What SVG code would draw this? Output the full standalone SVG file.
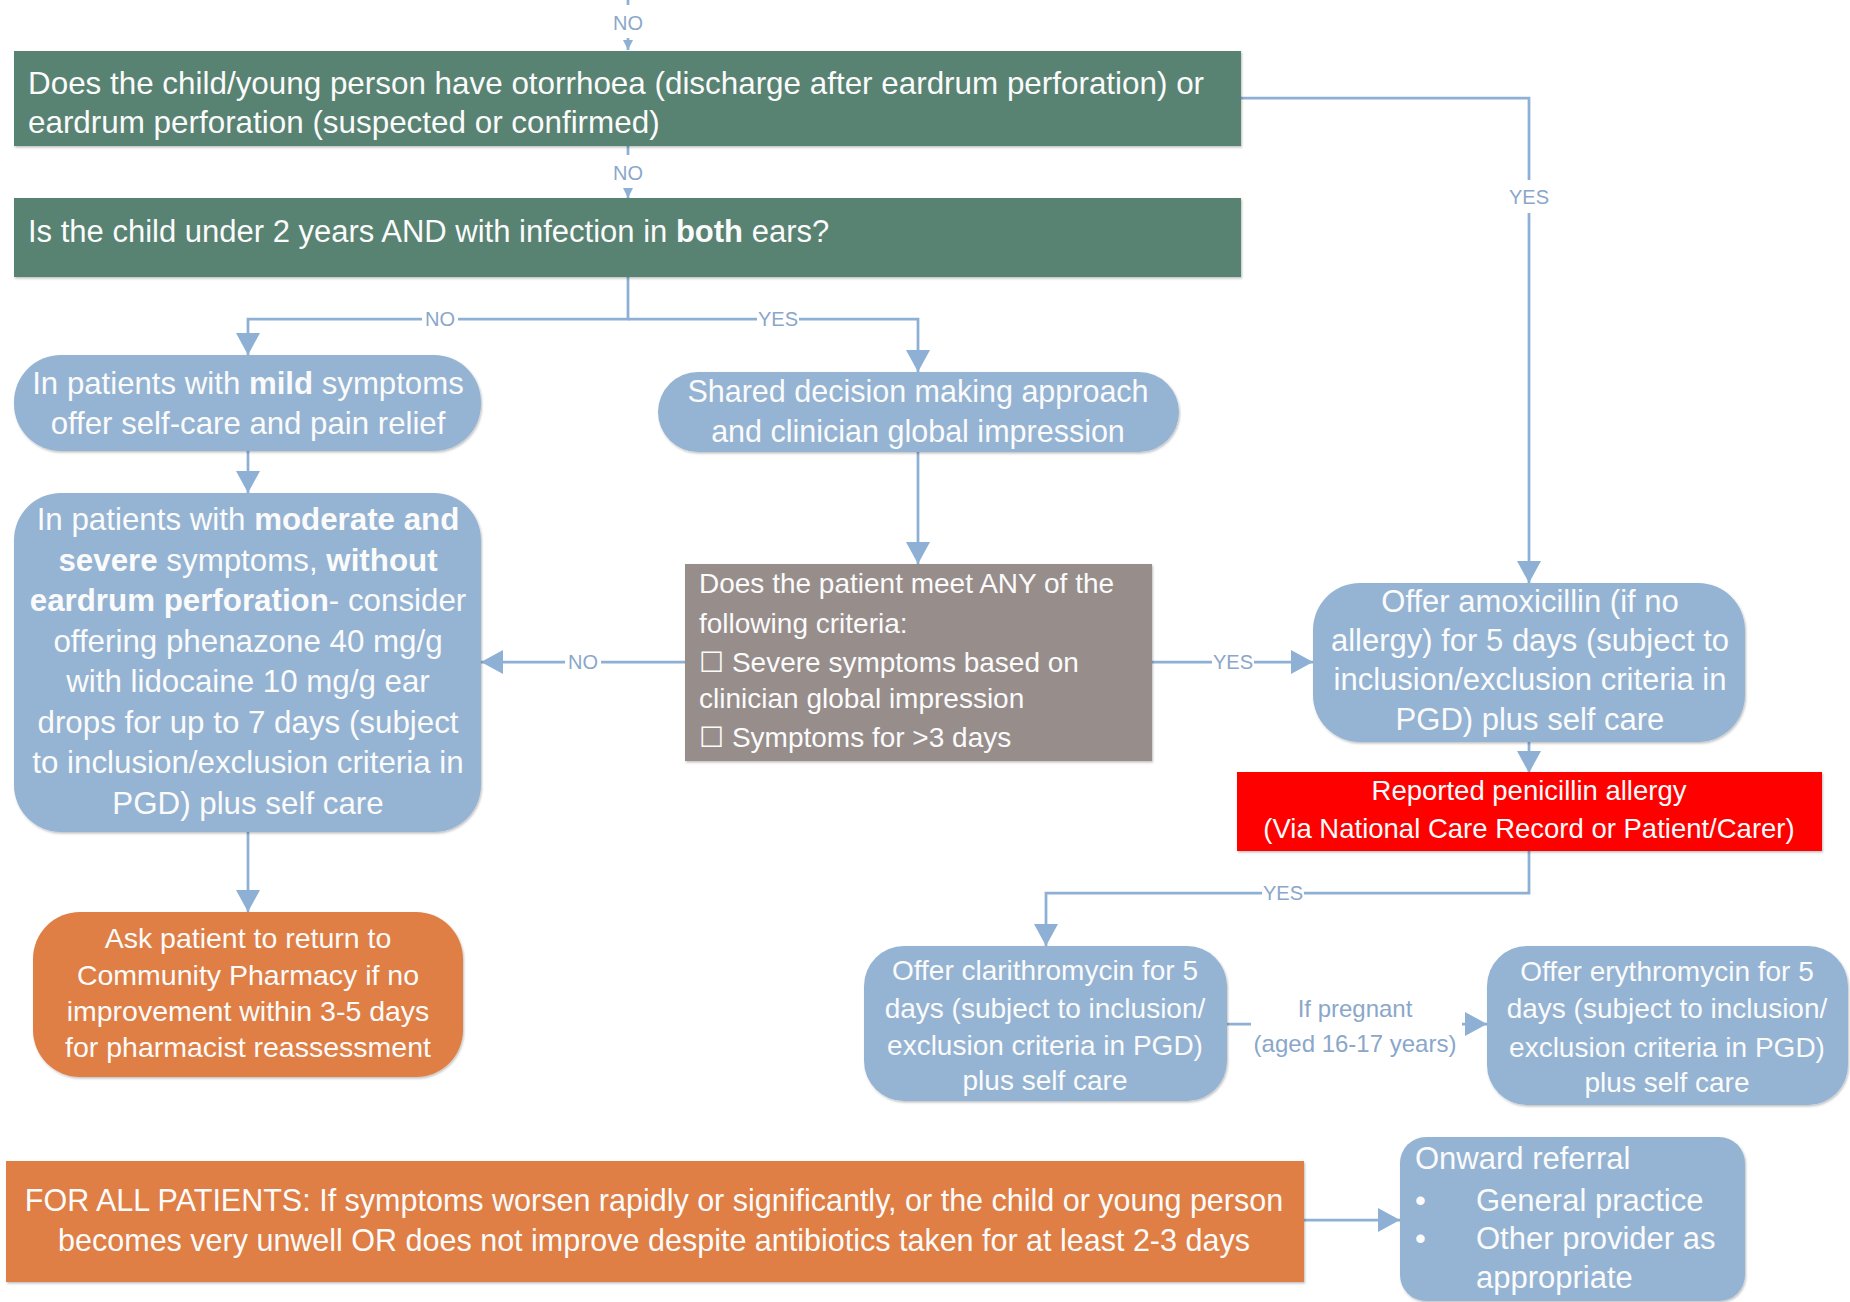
<svg xmlns="http://www.w3.org/2000/svg" width="1850" height="1302" viewBox="0 0 1850 1302">
  <defs>
    <style>
      .t { font-family: "Liberation Sans", "DejaVu Sans", Arial, sans-serif; fill: #fbfbfb; }
      .b { font-weight: bold; }
      .c { text-anchor: middle; }
      .lbl { font-family: "Liberation Sans", "DejaVu Sans", Arial, sans-serif; font-size: 20px; fill: #8aa7ca; text-anchor: middle; }
      .conn { fill: none; stroke: #8eb0d4; stroke-width: 2.75; }
      .gap { fill: #ffffff; }
      .green { fill: #588272; }
      .blue { fill: #95b4d3; }
      .grey { fill: #978d8b; }
      .orange { fill: #df7f45; }
      .red { fill: #ff0000; }
    </style>
    <filter id="sh" x="-5%" y="-5%" width="110%" height="115%">
      <feDropShadow dx="1" dy="1.5" stdDeviation="1.2" flood-color="#000" flood-opacity="0.25"/>
    </filter>
    <filter id="soft" x="-1%" y="-100%" width="102%" height="300%">
      <feGaussianBlur stdDeviation="0.8"/>
    </filter>
    <marker id="arr" viewBox="0 0 22 24" refX="22" refY="12" markerWidth="22" markerHeight="24" orient="auto" markerUnits="userSpaceOnUse">
      <path d="M0,0 L22,12 L0,24 z" fill="#8eb0d4"/>
    </marker>
    <marker id="arrs" viewBox="0 0 10 10" refX="10" refY="5" markerWidth="10" markerHeight="10" orient="auto" markerUnits="userSpaceOnUse">
      <path d="M0,0 L10,5 L0,10 z" fill="#8eb0d4"/>
    </marker>
  </defs>

  <rect width="1850" height="1302" fill="#ffffff"/>

  <!-- rule left over from the previous section -->
  <line x1="0" y1="1.5" x2="1400" y2="1.5" stroke="#8c8c8c" stroke-width="3" filter="url(#soft)"/>

  <!-- connectors -->
  <g id="connectors">
    <path class="conn" d="M628,0 V50" marker-end="url(#arrs)"/>
    <rect class="gap" x="608" y="5" width="40" height="33"/>
    <text class="lbl" x="628" y="30">NO</text>

    <path class="conn" d="M628,146 V198" marker-end="url(#arrs)"/>
    <rect class="gap" x="608" y="155" width="40" height="33"/>
    <text class="lbl" x="628" y="180">NO</text>

    <path class="conn" d="M628,277 V319 H248 V355" marker-end="url(#arr)"/>
    <path class="conn" d="M628,319 H918 V372" marker-end="url(#arr)"/>
    <rect class="gap" x="422" y="309" width="36" height="20"/>
    <text class="lbl" x="440" y="326">NO</text>
    <rect class="gap" x="757" y="309" width="42" height="20"/>
    <text class="lbl" x="778" y="326">YES</text>

    <path class="conn" d="M248,451 V493" marker-end="url(#arr)"/>
    <path class="conn" d="M918,451 V564" marker-end="url(#arr)"/>

    <path class="conn" d="M685,662 H481" marker-end="url(#arr)"/>
    <rect class="gap" x="565" y="652" width="36" height="20"/>
    <text class="lbl" x="583" y="669">NO</text>

    <path class="conn" d="M1152,662 H1313" marker-end="url(#arr)"/>
    <rect class="gap" x="1212" y="652" width="42" height="20"/>
    <text class="lbl" x="1233" y="669">YES</text>

    <path class="conn" d="M1241,98 H1529 V583" marker-end="url(#arr)"/>
    <rect class="gap" x="1509" y="180" width="40" height="33"/>
    <text class="lbl" x="1529" y="204">YES</text>

    <path class="conn" d="M1529,741 V773" marker-end="url(#arr)"/>

    <path class="conn" d="M1529,850 V893 H1046 V946" marker-end="url(#arr)"/>
    <rect class="gap" x="1262" y="883" width="42" height="20"/>
    <text class="lbl" x="1283" y="900">YES</text>

    <path class="conn" d="M1227,1024 H1487" marker-end="url(#arr)"/>
    <rect class="gap" x="1251" y="990" width="211" height="70"/>
    <text class="lbl" x="1355" y="1017" style="font-size:24px">If pregnant</text>
    <text class="lbl" x="1355" y="1052" style="font-size:24px">(aged 16-17 years)</text>

    <path class="conn" d="M248,832 V912" marker-end="url(#arr)"/>
    <path class="conn" d="M1304,1220 H1400" marker-end="url(#arr)"/>
  </g>

  <!-- decision: otorrhoea / perforation -->
  <g id="q-otorrhoea">
    <rect class="green" x="14" y="51" width="1227" height="95" filter="url(#sh)"/>
    <text class="t" x="28" y="94" style="font-size:31.4px">Does the child/young person have otorrhoea (discharge after eardrum perforation) or</text>
    <text class="t" x="28" y="133" style="font-size:31.4px">eardrum perforation (suspected or confirmed)</text>
  </g>

  <!-- decision: age and both ears -->
  <g id="q-both-ears">
    <rect class="green" x="14" y="198" width="1227" height="79" filter="url(#sh)"/>
    <text class="t" x="28" y="242" style="font-size:31px">Is the child under 2 years AND with infection in <tspan class="b">both</tspan> ears?</text>
  </g>

  <!-- mild symptoms -->
  <g id="mild">
    <rect class="blue" x="14" y="355" width="467" height="96" rx="47" filter="url(#sh)"/>
    <text class="t c" x="248" y="394" style="font-size:31.2px">In patients with <tspan class="b">mild</tspan> symptoms</text>
    <text class="t c" x="248" y="434" style="font-size:31.2px">offer self-care and pain relief</text>
  </g>

  <!-- shared decision making -->
  <g id="shared-decision">
    <rect class="blue" x="658" y="372" width="521" height="80" rx="40" filter="url(#sh)"/>
    <text class="t c" x="918" y="402" style="font-size:30.5px">Shared decision making approach</text>
    <text class="t c" x="918" y="442" style="font-size:30.5px">and clinician global impression</text>
  </g>

  <!-- moderate / severe symptoms -->
  <g id="moderate-severe">
    <rect class="blue" x="14" y="493" width="467" height="339" rx="47" filter="url(#sh)"/>
    <g class="t c" style="font-size:31.3px">
      <text x="248" y="530">In patients with <tspan class="b">moderate and</tspan></text>
      <text x="248" y="571"><tspan class="b">severe</tspan> symptoms, <tspan class="b">without</tspan></text>
      <text x="248" y="611"><tspan class="b">eardrum perforation</tspan>- consider</text>
      <text x="248" y="652">offering phenazone 40 mg/g</text>
      <text x="248" y="692">with lidocaine 10 mg/g ear</text>
      <text x="248" y="733">drops for up to 7 days (subject</text>
      <text x="248" y="773">to inclusion/exclusion criteria in</text>
      <text x="248" y="814">PGD) plus self care</text>
    </g>
  </g>

  <!-- criteria check -->
  <g id="criteria">
    <rect class="grey" x="685" y="564" width="467" height="197" filter="url(#sh)"/>
    <g class="t" style="font-size:28px">
      <text x="699" y="593">Does the patient meet ANY of the</text>
      <text x="699" y="633">following criteria:</text>
      <text x="699" y="672">☐ Severe symptoms based on</text>
      <text x="699" y="708">clinician global impression</text>
      <text x="699" y="747">☐ Symptoms for &gt;3 days</text>
    </g>
  </g>

  <!-- amoxicillin -->
  <g id="amoxicillin">
    <rect class="blue" x="1313" y="583" width="432" height="159" rx="47" filter="url(#sh)"/>
    <g class="t c" style="font-size:31px">
      <text x="1530" y="612">Offer amoxicillin (if no</text>
      <text x="1530" y="651">allergy) for 5 days (subject to</text>
      <text x="1530" y="690">inclusion/exclusion criteria in</text>
      <text x="1530" y="730">PGD) plus self care</text>
    </g>
  </g>

  <!-- penicillin allergy -->
  <g id="penicillin-allergy">
    <rect class="red" x="1237" y="772" width="585" height="79" filter="url(#sh)"/>
    <text class="t c" x="1529" y="800" style="font-size:27.5px">Reported penicillin allergy</text>
    <text class="t c" x="1529" y="838" style="font-size:27.5px">(Via National Care Record or Patient/Carer)</text>
  </g>

  <!-- clarithromycin -->
  <g id="clarithromycin">
    <rect class="blue" x="864" y="946" width="363" height="155" rx="40" filter="url(#sh)"/>
    <g class="t c" style="font-size:28px">
      <text x="1045" y="980">Offer clarithromycin for 5</text>
      <text x="1045" y="1018">days (subject to inclusion/</text>
      <text x="1045" y="1055">exclusion criteria in PGD)</text>
      <text x="1045" y="1090">plus self care</text>
    </g>
  </g>

  <!-- erythromycin -->
  <g id="erythromycin">
    <rect class="blue" x="1487" y="946" width="361" height="159" rx="40" filter="url(#sh)"/>
    <g class="t c" style="font-size:28px">
      <text x="1667" y="981">Offer erythromycin for 5</text>
      <text x="1667" y="1018">days (subject to inclusion/</text>
      <text x="1667" y="1057">exclusion criteria in PGD)</text>
      <text x="1667" y="1092">plus self care</text>
    </g>
  </g>

  <!-- return for reassessment -->
  <g id="reassess">
    <rect class="orange" x="33" y="912" width="430" height="165" rx="47" filter="url(#sh)"/>
    <g class="t c" style="font-size:28.5px">
      <text x="248" y="948">Ask patient to return to</text>
      <text x="248" y="985">Community Pharmacy if no</text>
      <text x="248" y="1021">improvement within 3-5 days</text>
      <text x="248" y="1057">for pharmacist reassessment</text>
    </g>
  </g>

  <!-- safety-net advice -->
  <g id="all-patients">
    <rect class="orange" x="6" y="1161" width="1298" height="121" filter="url(#sh)"/>
    <text class="t c" x="654" y="1211" style="font-size:30.5px">FOR ALL PATIENTS: If symptoms worsen rapidly or significantly, or the child or young person</text>
    <text class="t c" x="654" y="1251" style="font-size:30.5px">becomes very unwell OR does not improve despite antibiotics taken for at least 2-3 days</text>
  </g>

  <!-- onward referral -->
  <g id="onward-referral">
    <rect class="blue" x="1400" y="1137" width="345" height="164" rx="26" filter="url(#sh)"/>
    <g class="t" style="font-size:31px">
      <text x="1415" y="1169">Onward referral</text>
      <text x="1415" y="1211">•</text>
      <text x="1476" y="1211">General practice</text>
      <text x="1415" y="1249">•</text>
      <text x="1476" y="1249">Other provider as</text>
      <text x="1476" y="1288">appropriate</text>
    </g>
  </g>
</svg>
